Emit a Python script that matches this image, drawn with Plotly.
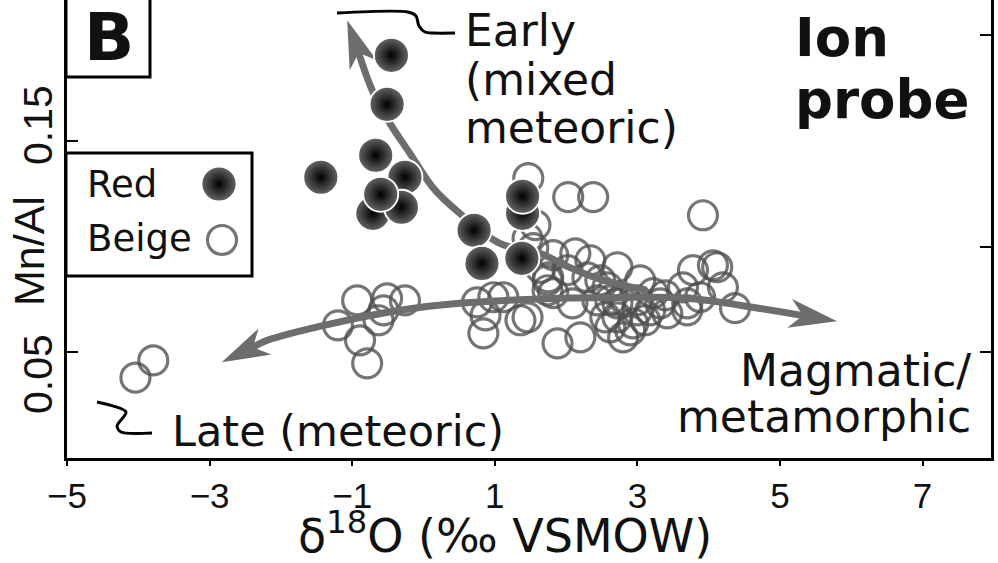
import math
import plotly.graph_objects as go

# ---------------- data ----------------
red_d18O = [-0.45, -0.51, -0.67, -1.44, -0.26, -0.71, -0.31, -0.60, 1.39, 1.39, 0.71, 0.82, 1.38]
red_mnal = [0.1906, 0.1674, 0.1433, 0.1329, 0.1329, 0.1158, 0.1187, 0.1248, 0.1158, 0.1239, 0.1078, 0.0921, 0.0945]

beige_d18O = [-4.04, -3.79, -0.93, -1.20, -0.51, -0.26, -0.63, -0.89, -0.79, -0.56,
              0.75, 0.98, 1.12, 0.87, 0.84, 1.36, 1.88, 1.74, 1.47, 2.03,
              2.38, 3.92, 1.57, 1.54, 1.82, 2.13, 2.34, 1.75, 2.02, 2.30,
              2.72, 2.48, 1.82, 2.09, 1.46, 2.20, 2.55, 2.62, 2.94, 2.80,
              3.04, 3.00, 3.22, 3.32, 2.72, 3.42, 3.64, 3.70, 3.78, 4.06,
              4.12, 4.20, 4.37, 3.88, 1.74, 2.58, 3.00, 2.72, 2.90, 3.70,
              2.44, 3.18, 3.11, 2.83, 2.62, 3.39, 1.46, 1.64]
beige_mnal = [0.0380, 0.0462, 0.0746, 0.0628, 0.0756, 0.0746, 0.0652, 0.0557, 0.0448, 0.0699,
              0.0737, 0.0761, 0.0761, 0.0675, 0.0590, 0.0652, 0.0543, 0.0794, 0.1325, 0.1235,
              0.1235, 0.1149, 0.1102, 0.0993, 0.0960, 0.0969, 0.0936, 0.0855, 0.0889, 0.0855,
              0.0903, 0.0841, 0.0780, 0.0732, 0.0666, 0.0571, 0.0666, 0.0618, 0.0637, 0.0571,
              0.0841, 0.0746, 0.0780, 0.0732, 0.0732, 0.0685, 0.0808, 0.0699, 0.0889, 0.0912,
              0.0903, 0.0808, 0.0709, 0.0761, 0.0841, 0.0808, 0.0699, 0.0666, 0.0604, 0.0732,
              0.0746, 0.0699, 0.0652, 0.0746, 0.0746, 0.0770, 0.1040, 0.0900]

# trend arrows (data space)
early_x = [3.13, 2.52, 2.05, 1.63, 1.07, 0.51, 0.13, -0.19, -0.47, -0.72, -1.07]
early_y = [0.0794, 0.0841, 0.0902, 0.0969, 0.1016, 0.1158, 0.1281, 0.1442, 0.1584, 0.1741, 0.2072]
trend_x = [-2.83, -2.19, -1.27, -0.33, 0.51, 1.91, 2.76, 3.70, 4.72, 5.80]
trend_y = [0.0453, 0.0557, 0.0637, 0.0699, 0.0732, 0.0756, 0.0760, 0.0756, 0.0708, 0.0647]

x_ticks = [-5, -3, -1, 1, 3, 5, 7]
y_ticks_left = [0.05, 0.15]
y_ticks_right = [0.05, 0.10, 0.20]
y_labels = ["0.05", "0.15"]

# ---------------- layout geometry ----------------
W, H = 998, 563
ML, MR, MT, MB = 67, 7, 0, 105
PW = W - ML - MR
PH = H - MT - MB
X_RANGE = [-5, 7.96]
Y_RANGE = [0, 0.2168]
SX = PW / (X_RANGE[1] - X_RANGE[0])
SY = PH / (Y_RANGE[1] - Y_RANGE[0])

FONT = "Liberation Sans, Arial, Helvetica, sans-serif"
WFONT = "DejaVu Sans, Liberation Sans, sans-serif"
ARROW_COL = "#6d6d6d"
BEIGE_COL = "rgba(78,78,78,0.78)"


def pxx(x):
    return (x - ML) / PW


def pxy(y):
    return (MT + PH - y) / PH


def to_pix(x, y):
    return ((x - X_RANGE[0]) * SX, (y - Y_RANGE[0]) * SY)


def from_pix(u, v):
    return (u / SX + X_RANGE[0], v / SY + Y_RANGE[0])


def head(tip, prev, L=48, Wd=29, notch=0.28):
    tu, tv = to_pix(*tip)
    pu, pv = to_pix(*prev)
    du, dv = tu - pu, tv - pv
    n = math.hypot(du, dv)
    du, dv = du / n, dv / n
    nu, nv = -dv, du
    pts = [(tu, tv),
           (tu - L * du + Wd / 2 * nu, tv - L * dv + Wd / 2 * nv),
           (tu - (1 - notch) * L * du, tv - (1 - notch) * L * dv),
           (tu - L * du - Wd / 2 * nu, tv - L * dv - Wd / 2 * nv),
           (tu, tv)]
    poly = [from_pix(u, v) for u, v in pts]
    base = from_pix(tu - 0.62 * L * du, tv - 0.62 * L * dv)
    return poly, base


fig = go.Figure()

BEIGE_MARKER = dict(symbol="circle-open", size=29, color=BEIGE_COL,
                    line=dict(width=3.2, color=BEIGE_COL))
RED_MARKER = dict(symbol="circle", size=35, color="#666666",
                  gradient=dict(type="radial", color="#000000"),
                  line=dict(width=1.8, color="white"))

# beige (open circles)
fig.add_trace(go.Scatter(x=beige_d18O, y=beige_mnal, mode="markers", showlegend=False,
                         marker=BEIGE_MARKER))


def draw_arrow(xs, ys, head_start, head_end):
    sx_, sy_ = list(xs), list(ys)
    polys = []
    if head_end:
        poly, base = head((xs[-1], ys[-1]), (xs[-2], ys[-2]))
        polys.append(poly)
        sx_[-1], sy_[-1] = base
    if head_start:
        poly, base = head((xs[0], ys[0]), (xs[1], ys[1]))
        polys.append(poly)
        sx_[0], sy_[0] = base
    fig.add_trace(go.Scatter(x=sx_, y=sy_, mode="lines", showlegend=False,
                             line=dict(color=ARROW_COL, width=7, shape="spline", smoothing=1.0),
                             hoverinfo="skip"))
    for poly in polys:
        fig.add_trace(go.Scatter(x=[p[0] for p in poly], y=[p[1] for p in poly],
                                 mode="lines", fill="toself", fillcolor=ARROW_COL,
                                 line=dict(width=0, color=ARROW_COL), showlegend=False,
                                 hoverinfo="skip"))


draw_arrow(early_x, early_y, False, True)
draw_arrow(trend_x, trend_y, True, True)

# red (shaded spheres), one trace each so overlaps stack like the reference
for xv, yv in zip(red_d18O, red_mnal):
    fig.add_trace(go.Scatter(x=[xv], y=[yv], mode="markers", showlegend=False,
                             marker=RED_MARKER))

# overlay axes in pixel units for legend swatches and leader lines
fig.add_trace(go.Scatter(x=[219], y=[184], xaxis="x2", yaxis="y2", mode="markers",
                         showlegend=False, marker=RED_MARKER))
fig.add_trace(go.Scatter(x=[222], y=[240], xaxis="x2", yaxis="y2", mode="markers",
                         showlegend=False, marker=BEIGE_MARKER))
# leader from "Early" label
fig.add_trace(go.Scatter(x=[337, 408, 416, 419, 425, 433, 455],
                         y=[13, 12, 16, 26, 32, 33, 33], xaxis="x2", yaxis="y2",
                         mode="lines", showlegend=False,
                         line=dict(color="black", width=3, shape="spline", smoothing=0.8)))
# squiggle near "Late"
fig.add_trace(go.Scatter(x=[97, 126, 117, 121, 152],
                         y=[402, 412, 426, 432, 433], xaxis="x2", yaxis="y2",
                         mode="lines", showlegend=False,
                         line=dict(color="black", width=3, shape="spline", smoothing=0.8)))

shapes = [
    dict(type="rect", xref="paper", yref="paper", x0=pxx(66), x1=pxx(150), y0=pxy(77), y1=pxy(-6),
         line=dict(color="black", width=3), fillcolor="white", layer="above"),
    dict(type="rect", xref="paper", yref="paper", x0=pxx(66), x1=pxx(252), y0=pxy(276), y1=pxy(153),
         line=dict(color="black", width=3), fillcolor="white", layer="below"),
]


def txt(text, x, y, size, xanchor="left", bold=False, angle=0, family=WFONT):
    return dict(text=("<b>%s</b>" % text) if bold else text, xref="paper", yref="paper",
                x=pxx(x), y=pxy(y), xanchor=xanchor, yanchor="middle", showarrow=False,
                textangle=angle, font=dict(family=family, size=size, color="#111"))


annotations = [
    txt("B", 109, 38, 66, xanchor="center", bold=True),
    txt("Red", 85, 184, 37),
    txt("Beige", 85, 238, 37),
    txt("Early", 463, 31, 44),
    txt("(mixed", 463, 80, 44),
    txt("meteoric)", 463, 127, 44),
    txt("Ion", 793, 38, 53, bold=True),
    txt("probe", 793, 99, 53, bold=True),
    txt("Magmatic/", 973, 370, 44, xanchor="right"),
    txt("metamorphic", 973, 416, 44, xanchor="right"),
    txt("Late (meteoric)", 170, 431, 43),
    txt("δ<sup>18</sup>O (‰ VSMOW)", 505, 533, 46, xanchor="center"),
    txt("Mn/Al", 29, 251, 43, xanchor="center", angle=-90, family=FONT),
    txt(y_labels[1], 38, 125, 41, xanchor="center", angle=-90, family=FONT),
    txt(y_labels[0], 38, 374, 41, xanchor="center", angle=-90, family=FONT),
]

fig.update_layout(
    width=W, height=H,
    margin=dict(l=ML, r=MR, t=MT, b=MB, pad=0),
    paper_bgcolor="white", plot_bgcolor="white",
    showlegend=False,
    font=dict(family=FONT, color="#111"),
    shapes=shapes, annotations=annotations,
    xaxis=dict(range=X_RANGE, tickvals=x_ticks, ticks="outside", ticklen=5, tickwidth=2,
               tickcolor="black", showline=True, linewidth=3, linecolor="black",
               mirror=False, showgrid=False, zeroline=False,
               tickfont=dict(family=FONT, size=35, color="#111"), ticklabelstandoff=0),
    yaxis=dict(range=Y_RANGE, tickvals=y_ticks_left, showticklabels=False, ticks="inside",
               ticklen=11, tickwidth=2, tickcolor="black", showline=True, linewidth=3,
               linecolor="black", mirror=False, showgrid=False, zeroline=False),
    yaxis3=dict(range=Y_RANGE, tickvals=y_ticks_right, showticklabels=False, ticks="inside",
                ticklen=11, tickwidth=2, tickcolor="black", showline=True, linewidth=3,
                linecolor="black", side="right", overlaying="y", anchor="x",
                showgrid=False, zeroline=False),
    xaxis2=dict(range=[ML, ML + PW], overlaying="x", visible=False, fixedrange=True),
    yaxis2=dict(range=[MT + PH, MT], overlaying="y", visible=False, fixedrange=True),
)
# invisible trace so the right-hand axis is drawn
fig.add_trace(go.Scatter(x=[None], y=[None], yaxis="y3", showlegend=False, hoverinfo="skip"))

fig.write_html("out.html")
